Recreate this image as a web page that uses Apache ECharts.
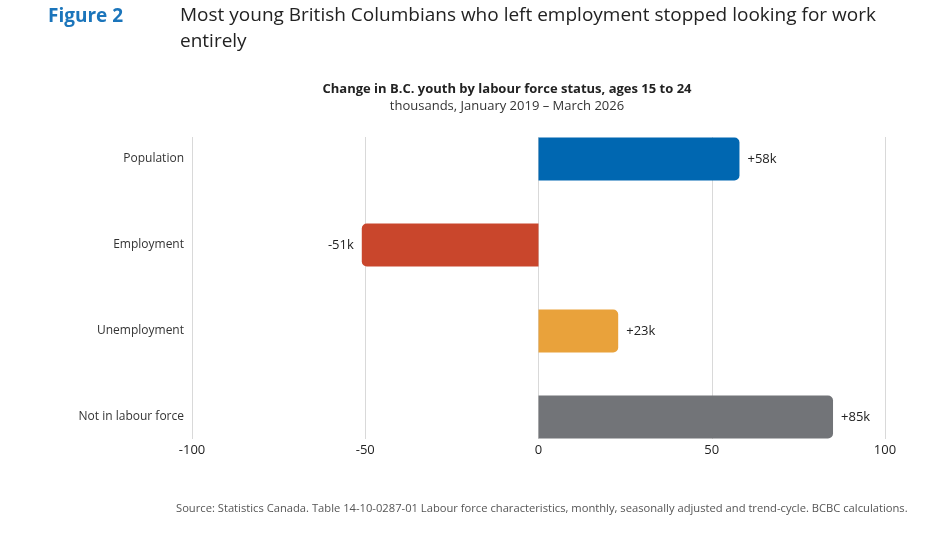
<!DOCTYPE html>
<html>
<head>
<meta charset="utf-8">
<script src="https://cdn.jsdelivr.net/npm/echarts@6/dist/echarts.min.js"></script>
<style>
  html, body { margin: 0; padding: 0; background: #fff; }
  #main { width: 938px; height: 535px; }
</style>
</head>
<body>
<div id="main"></div>
<script>
var myChart = echarts.init(document.getElementById('main'));

// categories (top to bottom)
var categories = ['Population', 'Employment', 'Unemployment', 'Not in labour force'];

// change in thousands
var values = [58, -51, 23, 85];

// bar colours per category
var barColors = ['#0067b1', '#c9462c', '#e9a23b', '#727478'];

// x axis ticks
var xMin = -100;
var xMax = 100;
var xStep = 50;

var font = '"Open Sans", "Noto Sans", sans-serif';

var barData = values.map(function (v, i) {
  return {
    value: v,
    itemStyle: {
      color: barColors[i],
      borderRadius: v >= 0 ? [0, 5, 5, 0] : [5, 0, 0, 5]
    },
    label: { position: v >= 0 ? 'right' : 'left' }
  };
});

var option = {
  backgroundColor: '#fff',
  animation: false,
  title: [{
    text: 'Figure 2',
    left: 48,
    top: 7,
    padding: 0,
    textStyle: { fontFamily: font, fontSize: 19, fontWeight: 'bold', color: '#1b75bb' }
  }, {
    text: 'Most young British Columbians who left employment stopped looking for work\nentirely',
    left: 180,
    top: 3,
    padding: 0,
    textStyle: { fontFamily: font, fontSize: 19, fontWeight: 'normal', color: '#222', lineHeight: 26 }
  }, {
    text: 'Change in B.C. youth by labour force status, ages 15 to 24',
    subtext: 'thousands, January 2019 – March 2026',
    left: 507,
    textAlign: 'center',
    top: 83,
    padding: 0,
    itemGap: 4,
    textStyle: { fontFamily: font, fontSize: 13, fontWeight: 'bold', color: '#222' },
    subtextStyle: { fontFamily: font, fontSize: 13, color: '#333' }
  }, {
    text: 'Source: Statistics Canada. Table 14-10-0287-01 Labour force characteristics, monthly, seasonally adjusted and trend-cycle. BCBC calculations.',
    left: 176,
    top: 503,
    padding: 0,
    textStyle: { fontFamily: font, fontSize: 11.2, fontWeight: 'normal', color: '#555' }
  }],
  grid: [
    // gridlines and tick labels
    { left: 192, right: 53, top: 137, bottom: 96 },
    // bars
    { left: 192, right: 53, top: 116, bottom: 75 }
  ],
  xAxis: [{
    gridIndex: 0,
    type: 'value',
    min: xMin,
    max: xMax,
    interval: xStep,
    axisLine: { show: false },
    axisTick: { show: false },
    axisLabel: { fontFamily: font, fontSize: 13, color: '#222', margin: 5 },
    splitLine: { lineStyle: { color: '#d9d9d9', width: 1 } }
  }, {
    gridIndex: 1,
    type: 'value',
    min: xMin,
    max: xMax,
    show: false
  }],
  yAxis: [{
    gridIndex: 0,
    type: 'category',
    data: categories,
    show: false
  }, {
    gridIndex: 1,
    type: 'category',
    data: categories,
    inverse: true,
    axisLine: { show: false },
    axisTick: { show: false },
    axisLabel: { fontFamily: font, fontSize: 12, color: '#333', margin: 8 }
  }],
  series: [{
    type: 'bar',
    xAxisIndex: 1,
    yAxisIndex: 1,
    barWidth: 43,
    data: barData,
    label: {
      show: true,
      distance: 8,
      fontFamily: font,
      fontSize: 13,
      color: '#222',
      formatter: function (p) {
        return (p.value > 0 ? '+' : '') + p.value + 'k';
      }
    }
  }]
};

myChart.setOption(option);
</script>
</body>
</html>
